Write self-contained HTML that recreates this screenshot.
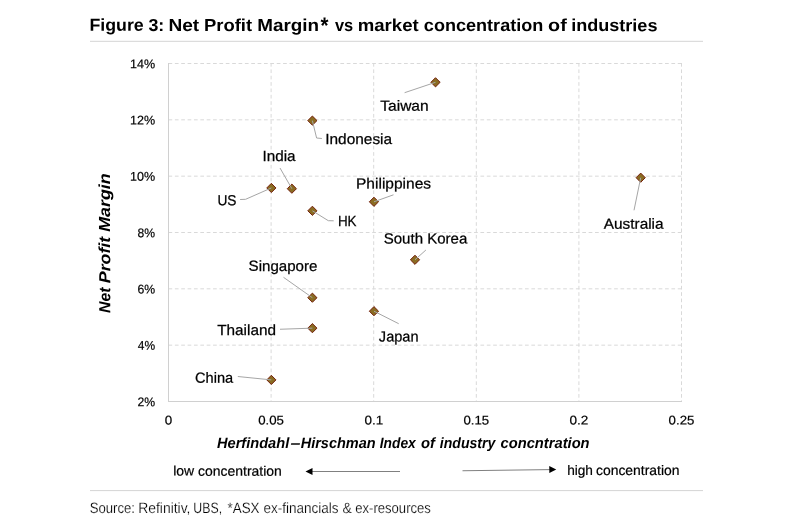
<!DOCTYPE html>
<html lang="en">
<head>
<meta charset="utf-8">
<title>Figure 3: Net Profit Margin* vs market concentration of industries</title>
<style>
html,body{margin:0;padding:0;background:#fff;}
body{width:800px;height:529px;overflow:hidden;}
svg{display:block;}
svg text{font-family:'Liberation Sans', sans-serif;fill:#000;text-rendering:geometricPrecision;}
.t{font-size:17.3px;font-weight:bold;}
.l{font-size:14.7px;stroke:#000;stroke-width:0.25px;}
.a{font-size:12.7px;stroke:#000;stroke-width:0.2px;}
.xt{font-size:15px;font-weight:bold;font-style:italic;}
.yt{font-size:16px;font-weight:bold;font-style:italic;}
.c{font-size:13.8px;stroke:#000;stroke-width:0.2px;}
.s{font-size:15px;fill:#000;stroke:#fff;stroke-width:0.2px;}
</style>
</head>
<body>
<svg width="800" height="529" viewBox="0 0 800 529">
<rect x="0" y="0" width="800" height="529" fill="#ffffff"/>
<text class="t" transform="rotate(0.03 373.7 31.0)"><tspan x="89.41" y="31.00" textLength="54.30" lengthAdjust="spacingAndGlyphs">Figure</tspan> <tspan x="148.49" y="31.00" textLength="15.82" lengthAdjust="spacingAndGlyphs">3:</tspan> <tspan x="168.47" y="31.00" textLength="30.76" lengthAdjust="spacingAndGlyphs">Net</tspan> <tspan x="204.02" y="31.00" textLength="48.11" lengthAdjust="spacingAndGlyphs">Profit</tspan> <tspan x="257.24" y="31.00" textLength="61.83" lengthAdjust="spacingAndGlyphs">Margin</tspan><tspan x="320.54" y="33.10" textLength="7.98" lengthAdjust="spacingAndGlyphs" style="font-size:22.5px">*</tspan> <tspan x="334.94" y="31.00" textLength="18.24" lengthAdjust="spacingAndGlyphs">vs</tspan> <tspan x="357.77" y="31.00" textLength="60.95" lengthAdjust="spacingAndGlyphs">market</tspan> <tspan x="423.89" y="31.00" textLength="119.43" lengthAdjust="spacingAndGlyphs">concentration</tspan> <tspan x="548.13" y="31.00" textLength="18.63" lengthAdjust="spacingAndGlyphs">of</tspan> <tspan x="571.24" y="31.00" textLength="86.20" lengthAdjust="spacingAndGlyphs">industries</tspan></text>
<rect x="90" y="40.8" width="613" height="1" fill="#d4d4d4"/>
<rect x="90" y="490.1" width="613" height="1" fill="#d4d4d4"/>
<line x1="168.50" y1="63.50" x2="682.00" y2="63.50" stroke="#d9d9d9" stroke-width="1" stroke-dasharray="3.7 2.666"/>
<line x1="168.50" y1="119.83" x2="682.00" y2="119.83" stroke="#d9d9d9" stroke-width="1" stroke-dasharray="3.7 2.666"/>
<line x1="168.50" y1="176.17" x2="682.00" y2="176.17" stroke="#d9d9d9" stroke-width="1" stroke-dasharray="3.7 2.666"/>
<line x1="168.50" y1="232.50" x2="682.00" y2="232.50" stroke="#d9d9d9" stroke-width="1" stroke-dasharray="3.7 2.666"/>
<line x1="168.50" y1="288.83" x2="682.00" y2="288.83" stroke="#d9d9d9" stroke-width="1" stroke-dasharray="3.7 2.666"/>
<line x1="168.50" y1="345.17" x2="682.00" y2="345.17" stroke="#d9d9d9" stroke-width="1" stroke-dasharray="3.7 2.666"/>
<line x1="271.10" y1="63.00" x2="271.10" y2="401.50" stroke="#d9d9d9" stroke-width="1" stroke-dasharray="3.7 2.666"/>
<line x1="373.70" y1="63.00" x2="373.70" y2="401.50" stroke="#d9d9d9" stroke-width="1" stroke-dasharray="3.7 2.666"/>
<line x1="476.30" y1="63.00" x2="476.30" y2="401.50" stroke="#d9d9d9" stroke-width="1" stroke-dasharray="3.7 2.666"/>
<line x1="578.90" y1="63.00" x2="578.90" y2="401.50" stroke="#d9d9d9" stroke-width="1" stroke-dasharray="3.7 2.666"/>
<line x1="681.50" y1="63.00" x2="681.50" y2="401.50" stroke="#d9d9d9" stroke-width="1" stroke-dasharray="3.7 2.666"/>
<line x1="168.50" y1="63.00" x2="168.50" y2="402.00" stroke="#d0d0d0" stroke-width="1"/>
<line x1="168.00" y1="401.50" x2="682.00" y2="401.50" stroke="#d0d0d0" stroke-width="1"/>
<text class="a" x="130.04" y="68.20" textLength="25.10" lengthAdjust="spacingAndGlyphs" transform="rotate(0.03 142.8 68.2)">14%</text>
<text class="a" x="130.04" y="124.53" textLength="25.10" lengthAdjust="spacingAndGlyphs" transform="rotate(0.03 142.8 124.5)">12%</text>
<text class="a" x="130.04" y="180.87" textLength="25.10" lengthAdjust="spacingAndGlyphs" transform="rotate(0.03 142.8 180.9)">10%</text>
<text class="a" x="137.57" y="237.20" textLength="17.56" lengthAdjust="spacingAndGlyphs" transform="rotate(0.03 146.4 237.2)">8%</text>
<text class="a" x="137.48" y="293.53" textLength="17.66" lengthAdjust="spacingAndGlyphs" transform="rotate(0.03 146.4 293.5)">6%</text>
<text class="a" x="137.83" y="349.87" textLength="17.30" lengthAdjust="spacingAndGlyphs" transform="rotate(0.03 146.4 349.9)">4%</text>
<text class="a" x="137.49" y="406.20" textLength="17.65" lengthAdjust="spacingAndGlyphs" transform="rotate(0.03 146.4 406.2)">2%</text>
<text class="a" x="164.78" y="424.60" textLength="7.45" lengthAdjust="spacingAndGlyphs" transform="rotate(0.03 168.5 424.6)">0</text>
<text class="a" x="258.23" y="424.60" textLength="25.77" lengthAdjust="spacingAndGlyphs" transform="rotate(0.03 271.1 424.6)">0.05</text>
<text class="a" x="364.43" y="424.60" textLength="18.68" lengthAdjust="spacingAndGlyphs" transform="rotate(0.03 373.7 424.6)">0.1</text>
<text class="a" x="463.43" y="424.60" textLength="25.77" lengthAdjust="spacingAndGlyphs" transform="rotate(0.03 476.3 424.6)">0.15</text>
<text class="a" x="569.57" y="424.60" textLength="18.81" lengthAdjust="spacingAndGlyphs" transform="rotate(0.03 578.9 424.6)">0.2</text>
<text class="a" x="668.63" y="424.60" textLength="25.77" lengthAdjust="spacingAndGlyphs" transform="rotate(0.03 681.5 424.6)">0.25</text>
<text class="xt" transform="rotate(0.03 403.1 448.0)"><tspan x="216.99" y="448.00" textLength="72.26" lengthAdjust="spacingAndGlyphs">Herfindahl</tspan><tspan x="290.62" y="448.00" textLength="9.91" lengthAdjust="spacingAndGlyphs">–</tspan><tspan x="300.75" y="448.00" textLength="74.86" lengthAdjust="spacingAndGlyphs">Hirschman</tspan> <tspan x="379.76" y="448.00" textLength="36.03" lengthAdjust="spacingAndGlyphs">Index</tspan> <tspan x="421.04" y="448.00" textLength="13.97" lengthAdjust="spacingAndGlyphs">of</tspan> <tspan x="439.76" y="448.00" textLength="55.66" lengthAdjust="spacingAndGlyphs">industry</tspan> <tspan x="500.55" y="448.00" textLength="89.07" lengthAdjust="spacingAndGlyphs">concntration</tspan></text>
<text class="yt" transform="translate(110.2 400) rotate(-90.03)" y="0"><tspan x="87.12" textLength="25.44" lengthAdjust="spacingAndGlyphs">Net</tspan> <tspan x="116.79" textLength="46.40" lengthAdjust="spacingAndGlyphs">Profit</tspan> <tspan x="168.29" textLength="58.36" lengthAdjust="spacingAndGlyphs">Margin</tspan></text>
<polygon points="435.51,77.70 440.11,82.30 435.51,86.90 430.91,82.30" fill="#8a6c22" stroke="#74200c" stroke-width="1"/>
<polygon points="312.39,116.00 316.99,120.60 312.39,125.20 307.79,120.60" fill="#8a6c22" stroke="#74200c" stroke-width="1"/>
<polygon points="291.87,184.10 296.47,188.70 291.87,193.30 287.27,188.70" fill="#8a6c22" stroke="#74200c" stroke-width="1"/>
<polygon points="271.35,183.35 275.95,187.95 271.35,192.55 266.75,187.95" fill="#8a6c22" stroke="#74200c" stroke-width="1"/>
<polygon points="312.39,206.20 316.99,210.80 312.39,215.40 307.79,210.80" fill="#8a6c22" stroke="#74200c" stroke-width="1"/>
<polygon points="373.95,197.20 378.55,201.80 373.95,206.40 369.35,201.80" fill="#8a6c22" stroke="#74200c" stroke-width="1"/>
<polygon points="640.71,173.10 645.31,177.70 640.71,182.30 636.11,177.70" fill="#8a6c22" stroke="#74200c" stroke-width="1"/>
<polygon points="414.99,255.20 419.59,259.80 414.99,264.40 410.39,259.80" fill="#8a6c22" stroke="#74200c" stroke-width="1"/>
<polygon points="312.39,293.10 316.99,297.70 312.39,302.30 307.79,297.70" fill="#8a6c22" stroke="#74200c" stroke-width="1"/>
<polygon points="373.95,306.60 378.55,311.20 373.95,315.80 369.35,311.20" fill="#8a6c22" stroke="#74200c" stroke-width="1"/>
<polygon points="312.39,323.55 316.99,328.15 312.39,332.75 307.79,328.15" fill="#8a6c22" stroke="#74200c" stroke-width="1"/>
<polygon points="271.35,375.30 275.95,379.90 271.35,384.50 266.75,379.90" fill="#8a6c22" stroke="#74200c" stroke-width="1"/>
<polyline points="435.51,82.30 404.60,92.70" fill="none" stroke="#a6a6a6" stroke-width="1"/>
<polyline points="312.39,120.60 316.60,138.00 321.90,138.50" fill="none" stroke="#a6a6a6" stroke-width="1"/>
<polyline points="291.87,188.70 280.00,168.00" fill="none" stroke="#a6a6a6" stroke-width="1"/>
<polyline points="271.35,187.95 245.60,199.30 240.10,199.50" fill="none" stroke="#a6a6a6" stroke-width="1"/>
<polyline points="312.39,210.80 328.30,220.70 333.70,220.80" fill="none" stroke="#a6a6a6" stroke-width="1"/>
<polyline points="373.95,201.80 393.50,194.80" fill="none" stroke="#a6a6a6" stroke-width="1"/>
<polyline points="640.71,177.70 634.00,210.30" fill="none" stroke="#a6a6a6" stroke-width="1"/>
<polyline points="414.99,259.80 425.90,250.00" fill="none" stroke="#a6a6a6" stroke-width="1"/>
<polyline points="312.39,297.70 283.50,277.30" fill="none" stroke="#a6a6a6" stroke-width="1"/>
<polyline points="373.95,311.20 398.70,323.70" fill="none" stroke="#a6a6a6" stroke-width="1"/>
<polyline points="312.39,328.15 280.00,329.25" fill="none" stroke="#a6a6a6" stroke-width="1"/>
<polyline points="271.35,379.90 237.80,376.50" fill="none" stroke="#a6a6a6" stroke-width="1"/>
<text class="l" x="380.26" y="110.80" textLength="48.41" lengthAdjust="spacingAndGlyphs" transform="rotate(0.03 404.1 110.8)">Taiwan</text>
<text class="l" x="325.28" y="144.10" textLength="66.82" lengthAdjust="spacingAndGlyphs" transform="rotate(0.03 359.4 144.1)">Indonesia</text>
<text class="l" x="262.44" y="160.90" textLength="33.16" lengthAdjust="spacingAndGlyphs" transform="rotate(0.03 279.7 160.9)">India</text>
<text class="l" x="217.44" y="205.20" textLength="19.04" lengthAdjust="spacingAndGlyphs" transform="rotate(0.03 227.2 205.2)">US</text>
<text class="l" x="337.90" y="226.50" textLength="18.65" lengthAdjust="spacingAndGlyphs" transform="rotate(0.03 347.7 226.5)">HK</text>
<text class="l" x="356.03" y="188.50" textLength="75.03" lengthAdjust="spacingAndGlyphs" transform="rotate(0.03 393.9 188.5)">Philippines</text>
<text class="l" x="603.77" y="228.80" textLength="59.83" lengthAdjust="spacingAndGlyphs" transform="rotate(0.03 633.7 228.8)">Australia</text>
<text class="l" x="383.72" y="243.50" textLength="83.58" lengthAdjust="spacingAndGlyphs" transform="rotate(0.03 425.9 243.5)">South Korea</text>
<text class="l" x="248.62" y="270.90" textLength="68.75" lengthAdjust="spacingAndGlyphs" transform="rotate(0.03 283.0 270.9)">Singapore</text>
<text class="l" x="378.87" y="341.60" textLength="39.67" lengthAdjust="spacingAndGlyphs" transform="rotate(0.03 398.4 341.6)">Japan</text>
<text class="l" x="217.16" y="334.90" textLength="58.83" lengthAdjust="spacingAndGlyphs" transform="rotate(0.03 246.2 334.9)">Thailand</text>
<text class="l" x="194.96" y="382.85" textLength="38.24" lengthAdjust="spacingAndGlyphs" transform="rotate(0.03 214.4 382.9)">China</text>
<line x1="311" y1="471.5" x2="400" y2="471.5" stroke="#808080" stroke-width="1"/>
<polygon points="305.5,471.5 312.5,468 312.5,475" fill="#000"/>
<line x1="462.5" y1="470.75" x2="551" y2="469.6" stroke="#808080" stroke-width="1"/>
<polygon points="556.25,469.5 549.25,466.1 549.35,473.1" fill="#000"/>
<text class="c" transform="rotate(0.03 227.5 475.6)"><tspan x="173.16" y="475.65" textLength="21.01" lengthAdjust="spacingAndGlyphs">low</tspan> <tspan x="198.01" y="475.65" textLength="83.80" lengthAdjust="spacingAndGlyphs">concentration</tspan></text>
<text class="c" transform="rotate(0.03 623.4 475.1)"><tspan x="567.15" y="475.10" textLength="25.83" lengthAdjust="spacingAndGlyphs">high</tspan> <tspan x="595.91" y="475.10" textLength="83.70" lengthAdjust="spacingAndGlyphs">concentration</tspan></text>
<text class="s" transform="rotate(0.03 260.3 512.7)"><tspan x="89.65" y="512.70" textLength="45.30" lengthAdjust="spacingAndGlyphs">Source:</tspan> <tspan x="138.18" y="512.70" textLength="52.29" lengthAdjust="spacingAndGlyphs">Refinitiv,</tspan> <tspan x="193.35" y="512.70" textLength="28.76" lengthAdjust="spacingAndGlyphs">UBS,</tspan> <tspan x="227.53" y="512.70" textLength="32.00" lengthAdjust="spacingAndGlyphs">*ASX</tspan> <tspan x="263.43" y="512.70" textLength="75.06" lengthAdjust="spacingAndGlyphs">ex-financials</tspan> <tspan x="342.61" y="512.70" textLength="9.31" lengthAdjust="spacingAndGlyphs">&amp;</tspan> <tspan x="355.19" y="512.70" textLength="75.68" lengthAdjust="spacingAndGlyphs">ex-resources</tspan></text>
</svg>
</body>
</html>
